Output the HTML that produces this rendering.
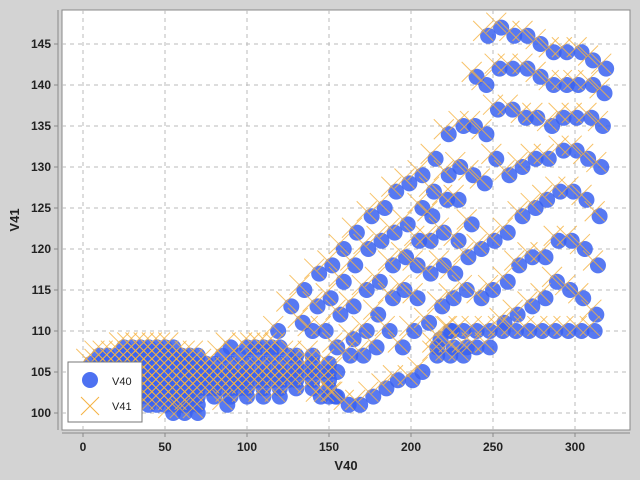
<!DOCTYPE html>
<html><head><meta charset="utf-8"><style>
html,body{margin:0;padding:0;background:#d3d3d3;}
svg{display:block;font-family:"Liberation Sans",sans-serif;}
</style></head><body>
<svg id="chart" width="640" height="480">
<rect x="62" y="10" width="568" height="420" fill="#fff" stroke="#888"/>
<g id="grid"></g><g id="marks"></g><g id="axes"></g>
<text x="346" y="470" text-anchor="middle" font-size="13" font-weight="bold" fill="#222">V40</text>
<text transform="translate(19,220) rotate(-90)" text-anchor="middle" font-size="13" font-weight="bold" fill="#222">V41</text>
<g>
<rect x="68" y="362" width="74" height="60" fill="#fff" stroke="#777"/>
<circle cx="90" cy="380" r="8" fill="#3a62f0" fill-opacity="0.9"/>
<text x="112" y="385" font-size="11" fill="#222">V40</text>
<path d="M81,397 L99,415 M99,397 L81,415" stroke="#f5b342" stroke-width="1"/>
<text x="112" y="410" font-size="11" fill="#222">V41</text>
</g>
</svg>
<script>
const xTicks=[0,50,100,150,200,250,300];
const yTicks=[100,105,110,115,120,125,130,135,140,145];
const v40X=[247,255,263,271,279,287,295,304,311,319,
240,246,254,262,271,279,287,295,302,311,318,
223,232,239,246,253,262,270,277,286,293,301,310,317,
215,230,238,245,207,199,191,184,176,167,159,152,144,135,127,119,
252,260,268,276,284,293,301,308,316,
223,214,207,198,190,182,174,166,159,151,143,134,
213,222,229,220,229,212,205,197,189,181,173,165,157,148,140,
237,235,243,251,259,268,276,283,291,299,307,315,
220,212,204,196,204,189,180,173,165,155,227,234,226,219,211,202,195,187,179,171,163,
243,250,259,257,265,274,282,289,297,305,313,266,274,282,290,298,306,314,
224,232,240,248,256,264,272,280,288,296,304,312,
218,240,248,216,224,232,207,201,192,185,177,169,162,154,234,226,216,225,
25,30,35,40,45,50,55,90,100,105,110,115,120,
10,15,20,25,30,35,40,45,50,55,60,65,70,85,95,105,115,125,130,140,
5,10,15,20,25,30,35,40,45,50,55,60,65,70,75,80,90,100,110,120,130,140,150,
10,15,20,25,30,35,40,45,50,55,60,65,70,75,80,85,90,95,100,105,110,115,120,125,130,135,140,145,150,155,
15,20,25,30,35,40,45,50,55,60,65,70,75,80,85,90,95,100,105,110,115,120,125,130,140,150,
25,30,35,40,45,50,55,60,65,70,75,80,85,90,95,100,110,120,130,140,150,
35,40,45,50,55,60,65,70,80,90,100,110,120,145,150,155,
40,45,50,55,60,65,70,88,55,62,70];
const v41Y=[146,147,146,146,145,144,144,144,143,142,
141,140,142,142,142,141,140,140,140,140,139,
134,135,135,134,137,137,136,136,135,136,136,136,135,
131,130,129,128,129,128,127,125,124,122,120,118,117,115,113,110,
131,129,130,131,131,132,132,131,130,
129,127,125,123,122,121,120,118,116,114,113,111,
124,126,126,122,121,121,121,119,118,116,115,113,112,110,110,
123,119,120,121,122,124,125,126,127,127,126,124,
118,117,118,115,114,114,112,110,109,108,117,115,114,113,111,110,108,110,108,107,107,
114,115,116,111,112,113,114,116,115,114,112,118,119,119,121,121,120,118,
110,110,110,110,110,110,110,110,110,110,110,110,
109,108,108,107,107,107,105,104,104,103,102,101,101,102,108,108,108,110,
108,108,108,108,108,108,108,108,108,108,108,108,108,
107,107,107,107,107,107,107,107,107,107,107,107,107,107,107,107,107,107,107,107,
106,106,106,106,106,106,106,106,106,106,106,106,106,106,106,106,106,106,106,106,106,106,106,
105,105,105,105,105,105,105,105,105,105,105,105,105,105,105,105,105,105,105,105,105,105,105,105,105,105,105,105,105,105,
104,104,104,104,104,104,104,104,104,104,104,104,104,104,104,104,104,104,104,104,104,104,104,104,104,104,
103,103,103,103,103,103,103,103,103,103,103,103,103,103,103,103,103,103,103,103,103,
102,102,102,102,102,102,102,102,102,102,102,102,102,102,102,102,
101,101,101,101,101,101,101,101,100,100,100];
const v41OffsetX=-3;
const v41OffsetY=0.6;
const sx=v=>83+v*1.64;
const sy=v=>44+(145-v)*8.2;
const NS='http://www.w3.org/2000/svg';
const grid=document.getElementById('grid'),axes=document.getElementById('axes'),marks=document.getElementById('marks');
function mk(tag,at,parent){const e=document.createElementNS(NS,tag);for(const k in at)e.setAttribute(k,at[k]);parent.appendChild(e);return e;}
mk('line',{x1:58,y1:10,x2:58,y2:430,stroke:'#888'},axes);
mk('line',{x1:62,y1:433,x2:630,y2:433,stroke:'#888'},axes);
xTicks.forEach(t=>{
 const gl=mk('line',{x1:sx(t),y1:10,x2:sx(t),y2:430,stroke:'#bbb','stroke-dasharray':'4,4'},grid);
 
 
 mk('line',{x1:sx(t),y1:433,x2:sx(t),y2:437,stroke:'#888'},axes);
 const tx=mk('text',{x:sx(t),y:451,'text-anchor':'middle','font-size':12,'font-weight':'bold',fill:'#222'},axes);
 tx.textContent=t;
 
 
});
yTicks.forEach(t=>{
 const gl=mk('line',{x1:62,y1:sy(t),x2:630,y2:sy(t),stroke:'#bbb','stroke-dasharray':'4,4'},grid);
 
 
 mk('line',{x1:54,y1:sy(t),x2:58,y2:sy(t),stroke:'#888'},axes);
 const tx=mk('text',{x:51,y:sy(t)+4,'text-anchor':'end','font-size':12,'font-weight':'bold',fill:'#222'},axes);
 tx.textContent=t;
 
 
});
v40X.forEach((x,i)=>{
 const c=mk('circle',{cx:sx(x),cy:sy(v41Y[i]),r:8,fill:'#3a62f0','fill-opacity':0.85},marks);
 
 
});
v40X.forEach((x,i)=>{
 const px=sx(x+v41OffsetX),py=sy(v41Y[i]+v41OffsetY),h=10;
 const p=mk('path',{d:`M${px-h},${py-h}L${px+h},${py+h}M${px+h},${py-h}L${px-h},${py+h}`,stroke:'#f5b342','stroke-width':1,'stroke-opacity':0.8,fill:'none'},marks);
 
 
});
</script>
</body></html>
